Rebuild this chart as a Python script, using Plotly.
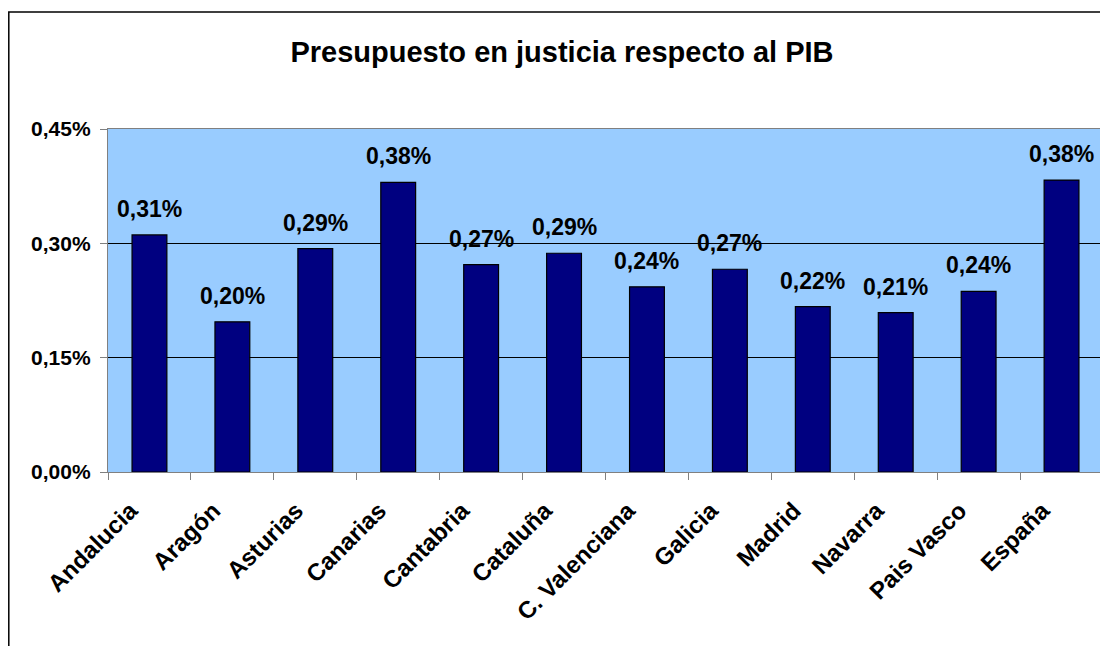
import plotly.graph_objects as go

categories = ["Andalucia", "Aragón", "Asturias", "Canarias", "Cantabria", "Cataluña",
              "C. Valenciana", "Galicia", "Madrid", "Navarra", "Pais Vasco", "España"]
values = [0.00311, 0.00197, 0.00293, 0.00380, 0.00272, 0.00287,
          0.00243, 0.00266, 0.00217, 0.00209, 0.00237, 0.00383]
title_text = "Presupuesto en justicia respecto al PIB"
y_ticks = [0.0, 0.0015, 0.0030, 0.0045]

FONT = "Arial, 'Liberation Sans', sans-serif"

def fmt(v):
    return f"{v*100:.2f}%".replace(".", ",")

fig = go.Figure()
fig.add_trace(go.Bar(
    x=categories, y=values,
    marker=dict(color="#000080", line=dict(color="#000000", width=1.2)),
    width=0.42,
    hoverinfo="skip",
))

for c, v in zip(categories, values):
    fig.add_annotation(x=c, y=v, text=fmt(v), showarrow=False,
                       yanchor="bottom", yshift=11, xanchor="center",
                       font=dict(family=FONT, size=23, color="#000000", weight="bold"))

OFF = 8  # page body margin
W, H = 1108 - OFF, 646 - OFF
L, R, T, B = 108 - OFF, 5, 129 - OFF, 174
pw, ph = W - L - R, H - T - B

# outer chart border
fig.add_shape(type="rect", xref="paper", yref="paper",
              x0=(0.8 - L) / pw, x1=(W + 20 - L) / pw,
              y0=-(H + 20 - T - ph) / ph, y1=1 + (T - (12 - OFF)) / ph,
              line=dict(color="#000000", width=1.5), fillcolor="rgba(0,0,0,0)", layer="below")

fig.update_layout(
    width=W, height=H,
    margin=dict(l=L, r=R, t=T, b=B, autoexpand=False),
    paper_bgcolor="#FFFFFF",
    plot_bgcolor="#99CCFF",
    separators=",.",
    showlegend=False,
    title=dict(text=title_text, xref="container", yref="container",
               x=(562 - OFF) / W, y=1 - (52 - OFF) / H, xanchor="center", yanchor="middle",
               font=dict(family=FONT, size=29, color="#000000", weight="bold")),
    xaxis=dict(
        type="category",
        tickangle=-45,
        tickson="boundaries",
        ticks="outside", ticklen=7, tickcolor="#808080", tickwidth=1.3,
        showline=True, linecolor="#808080", linewidth=1.3, mirror=True,
        showgrid=False,
        ticklabelstandoff=14, ticklabelshift=-19,
        tickfont=dict(family=FONT, size=24, color="#000000", weight="bold"),
        automargin=False,
    ),
    yaxis=dict(
        range=[0, 0.0045],
        tickvals=y_ticks,
        tickformat=".2%",
        ticks="outside", ticklen=7, tickcolor="#808080", tickwidth=1.3,
        showline=True, linecolor="#808080", linewidth=1.3, mirror=True,
        showgrid=True, gridcolor="#000000", gridwidth=1,
        zeroline=False,
        ticklabelstandoff=5,
        tickfont=dict(family=FONT, size=21, color="#000000", weight="bold"),
        automargin=False,
    ),
)

fig.write_html("out.html")
